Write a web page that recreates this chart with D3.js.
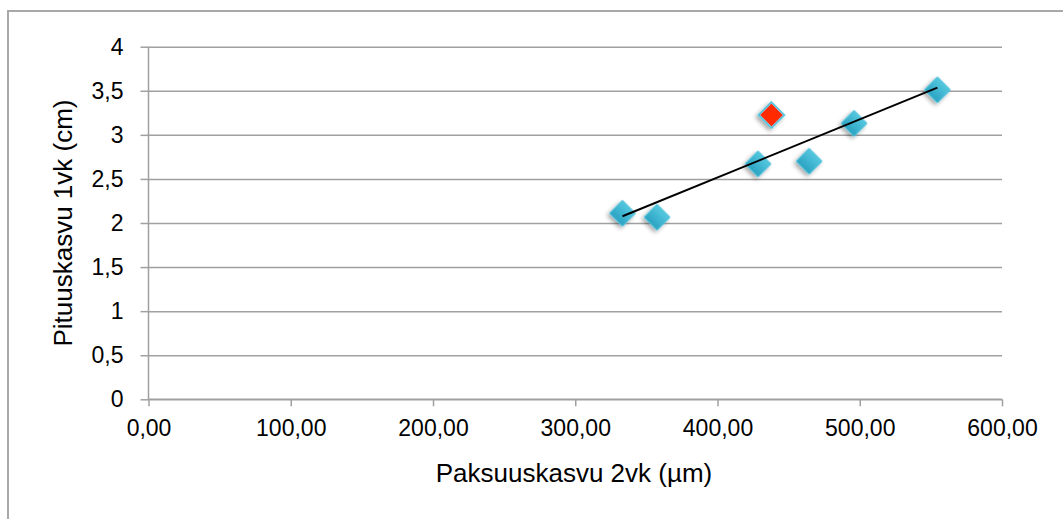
<!DOCTYPE html>
<html>
<head>
<meta charset="utf-8">
<script src="https://cdn.jsdelivr.net/npm/d3@7"></script>
<style>
  html, body { margin: 0; padding: 0; background: #ffffff; }
  svg { display: block; font-family: "Liberation Sans", Arial, sans-serif; }
</style>
</head>
<body>
<svg id="chart" width="1063" height="519"></svg>
<script>
// Thickness growth over 2 weeks (µm) vs. length growth over 1 week (cm)
const paksuus = [333.2, 357.5, 428.5, 437.9, 464.4, 496.0, 554.6];
const pituus  = [2.11, 2.065, 2.67, 3.225, 2.70, 3.13, 3.51];
const highlighted = [false, false, false, true, false, false, false];

const xTicks = [0, 100, 200, 300, 400, 500, 600];
const yTicks = [0, 0.5, 1, 1.5, 2, 2.5, 3, 3.5, 4];

const xTitle = "Paksuuskasvu 2vk (µm)";
const yTitle = "Pituuskasvu 1vk (cm)";

const svg = d3.select("#chart");
const W = 1063, H = 519;
const plot = { left: 148.5, right: 1002, top: 46.7, bottom: 399.3 };

const x = d3.scaleLinear().domain([0, 600]).range([plot.left, plot.right]);
const y = d3.scaleLinear().domain([0, 4]).range([plot.bottom, plot.top]);

const fmtX = d => d3.format(".2f")(d).replace(".", ",");
const fmtY = d => String(d).replace(".", ",");

// defs: marker gradient and drop shadow
const defs = svg.append("defs");
const gBlue = defs.append("linearGradient").attr("id", "blueFill")
  .attr("x1", 0).attr("y1", 0).attr("x2", 0).attr("y2", 1);
gBlue.append("stop").attr("offset", "0%").attr("stop-color", "#55c8df");
gBlue.append("stop").attr("offset", "100%").attr("stop-color", "#2aa2c2");
const shadow = defs.append("filter").attr("id", "shadow")
  .attr("x", "-50%").attr("y", "-50%").attr("width", "200%").attr("height", "200%");
shadow.append("feDropShadow").attr("dx", 0).attr("dy", 3).attr("stdDeviation", 2.2)
  .attr("flood-color", "#000").attr("flood-opacity", 0.35);

// outer chart frame
svg.append("rect")
  .attr("x", 8).attr("y", 11).attr("width", W + 10).attr("height", H + 10)
  .attr("fill", "none").attr("stroke", "#a8a8a8").attr("stroke-width", 2);

// horizontal gridlines
svg.append("g")
  .attr("transform", `translate(${plot.left},0)`)
  .call(d3.axisLeft(y).tickValues(yTicks).tickSize(-(plot.right - plot.left)).tickFormat(""))
  .call(g => g.select(".domain").remove())
  .call(g => g.selectAll("line").attr("stroke", "#a0a0a0").attr("stroke-width", 1.5));

// y axis
const yAxis = svg.append("g")
  .attr("transform", `translate(${plot.left},0)`)
  .call(d3.axisLeft(y).tickValues(yTicks).tickSize(8).tickPadding(17).tickFormat(fmtY));
yAxis.select(".domain").attr("stroke", "#a0a0a0").attr("stroke-width", 1.5).attr("d", `M0,${plot.top}V${plot.bottom}`);
yAxis.selectAll("line").attr("stroke", "#a0a0a0").attr("stroke-width", 1.5);
yAxis.selectAll("text").attr("font-size", 23).attr("fill", "#000");

// x axis
const xAxis = svg.append("g")
  .attr("transform", `translate(0,${plot.bottom})`)
  .call(d3.axisBottom(x).tickValues(xTicks).tickSize(7).tickPadding(13).tickFormat(fmtX));
xAxis.select(".domain").attr("stroke", "#a0a0a0").attr("stroke-width", 1.5).attr("d", `M${plot.left},0H${plot.right}`);
xAxis.selectAll("line").attr("stroke", "#a0a0a0").attr("stroke-width", 1.5);
xAxis.selectAll("text").attr("font-size", 23).attr("fill", "#000");

// axis titles
svg.append("text")
  .attr("x", 574).attr("y", 482)
  .attr("text-anchor", "middle").attr("font-size", 26).attr("fill", "#000")
  .text(xTitle);
svg.append("text")
  .attr("transform", `translate(72,${(plot.top + plot.bottom) / 2}) rotate(-90)`)
  .attr("text-anchor", "middle").attr("font-size", 26).attr("fill", "#000")
  .text(yTitle);

// points
const data = paksuus.map((v, i) => ({ x: v, y: pituus[i], hi: highlighted[i] }));
const diamond = d3.symbol().type(d3.symbolSquare).size(330);
svg.append("g").selectAll("path")
  .data(data)
  .join("path")
  .attr("d", diamond)
  .attr("transform", d => `translate(${x(d.x)},${y(d.y)}) rotate(45)`)
  .attr("fill", d => d.hi ? "#ff2a00" : "url(#blueFill)")
  .attr("stroke", d => d.hi ? "#5cc6de" : "#4bbfd9")
  .attr("stroke-width", d => d.hi ? 2 : 1)
  .attr("filter", "url(#shadow)");

// linear least-squares trendline across all points
const mx = d3.mean(paksuus), my = d3.mean(pituus);
const sxy = d3.sum(paksuus, (v, i) => (v - mx) * (pituus[i] - my));
const sxx = d3.sum(paksuus, v => (v - mx) ** 2);
const slope = sxy / sxx, intercept = my - slope * mx;
const [x0, x1] = d3.extent(paksuus);
svg.append("line")
  .attr("x1", x(x0)).attr("y1", y(intercept + slope * x0))
  .attr("x2", x(x1)).attr("y2", y(intercept + slope * x1))
  .attr("stroke", "#000").attr("stroke-width", 2);
</script>
</body>
</html>
